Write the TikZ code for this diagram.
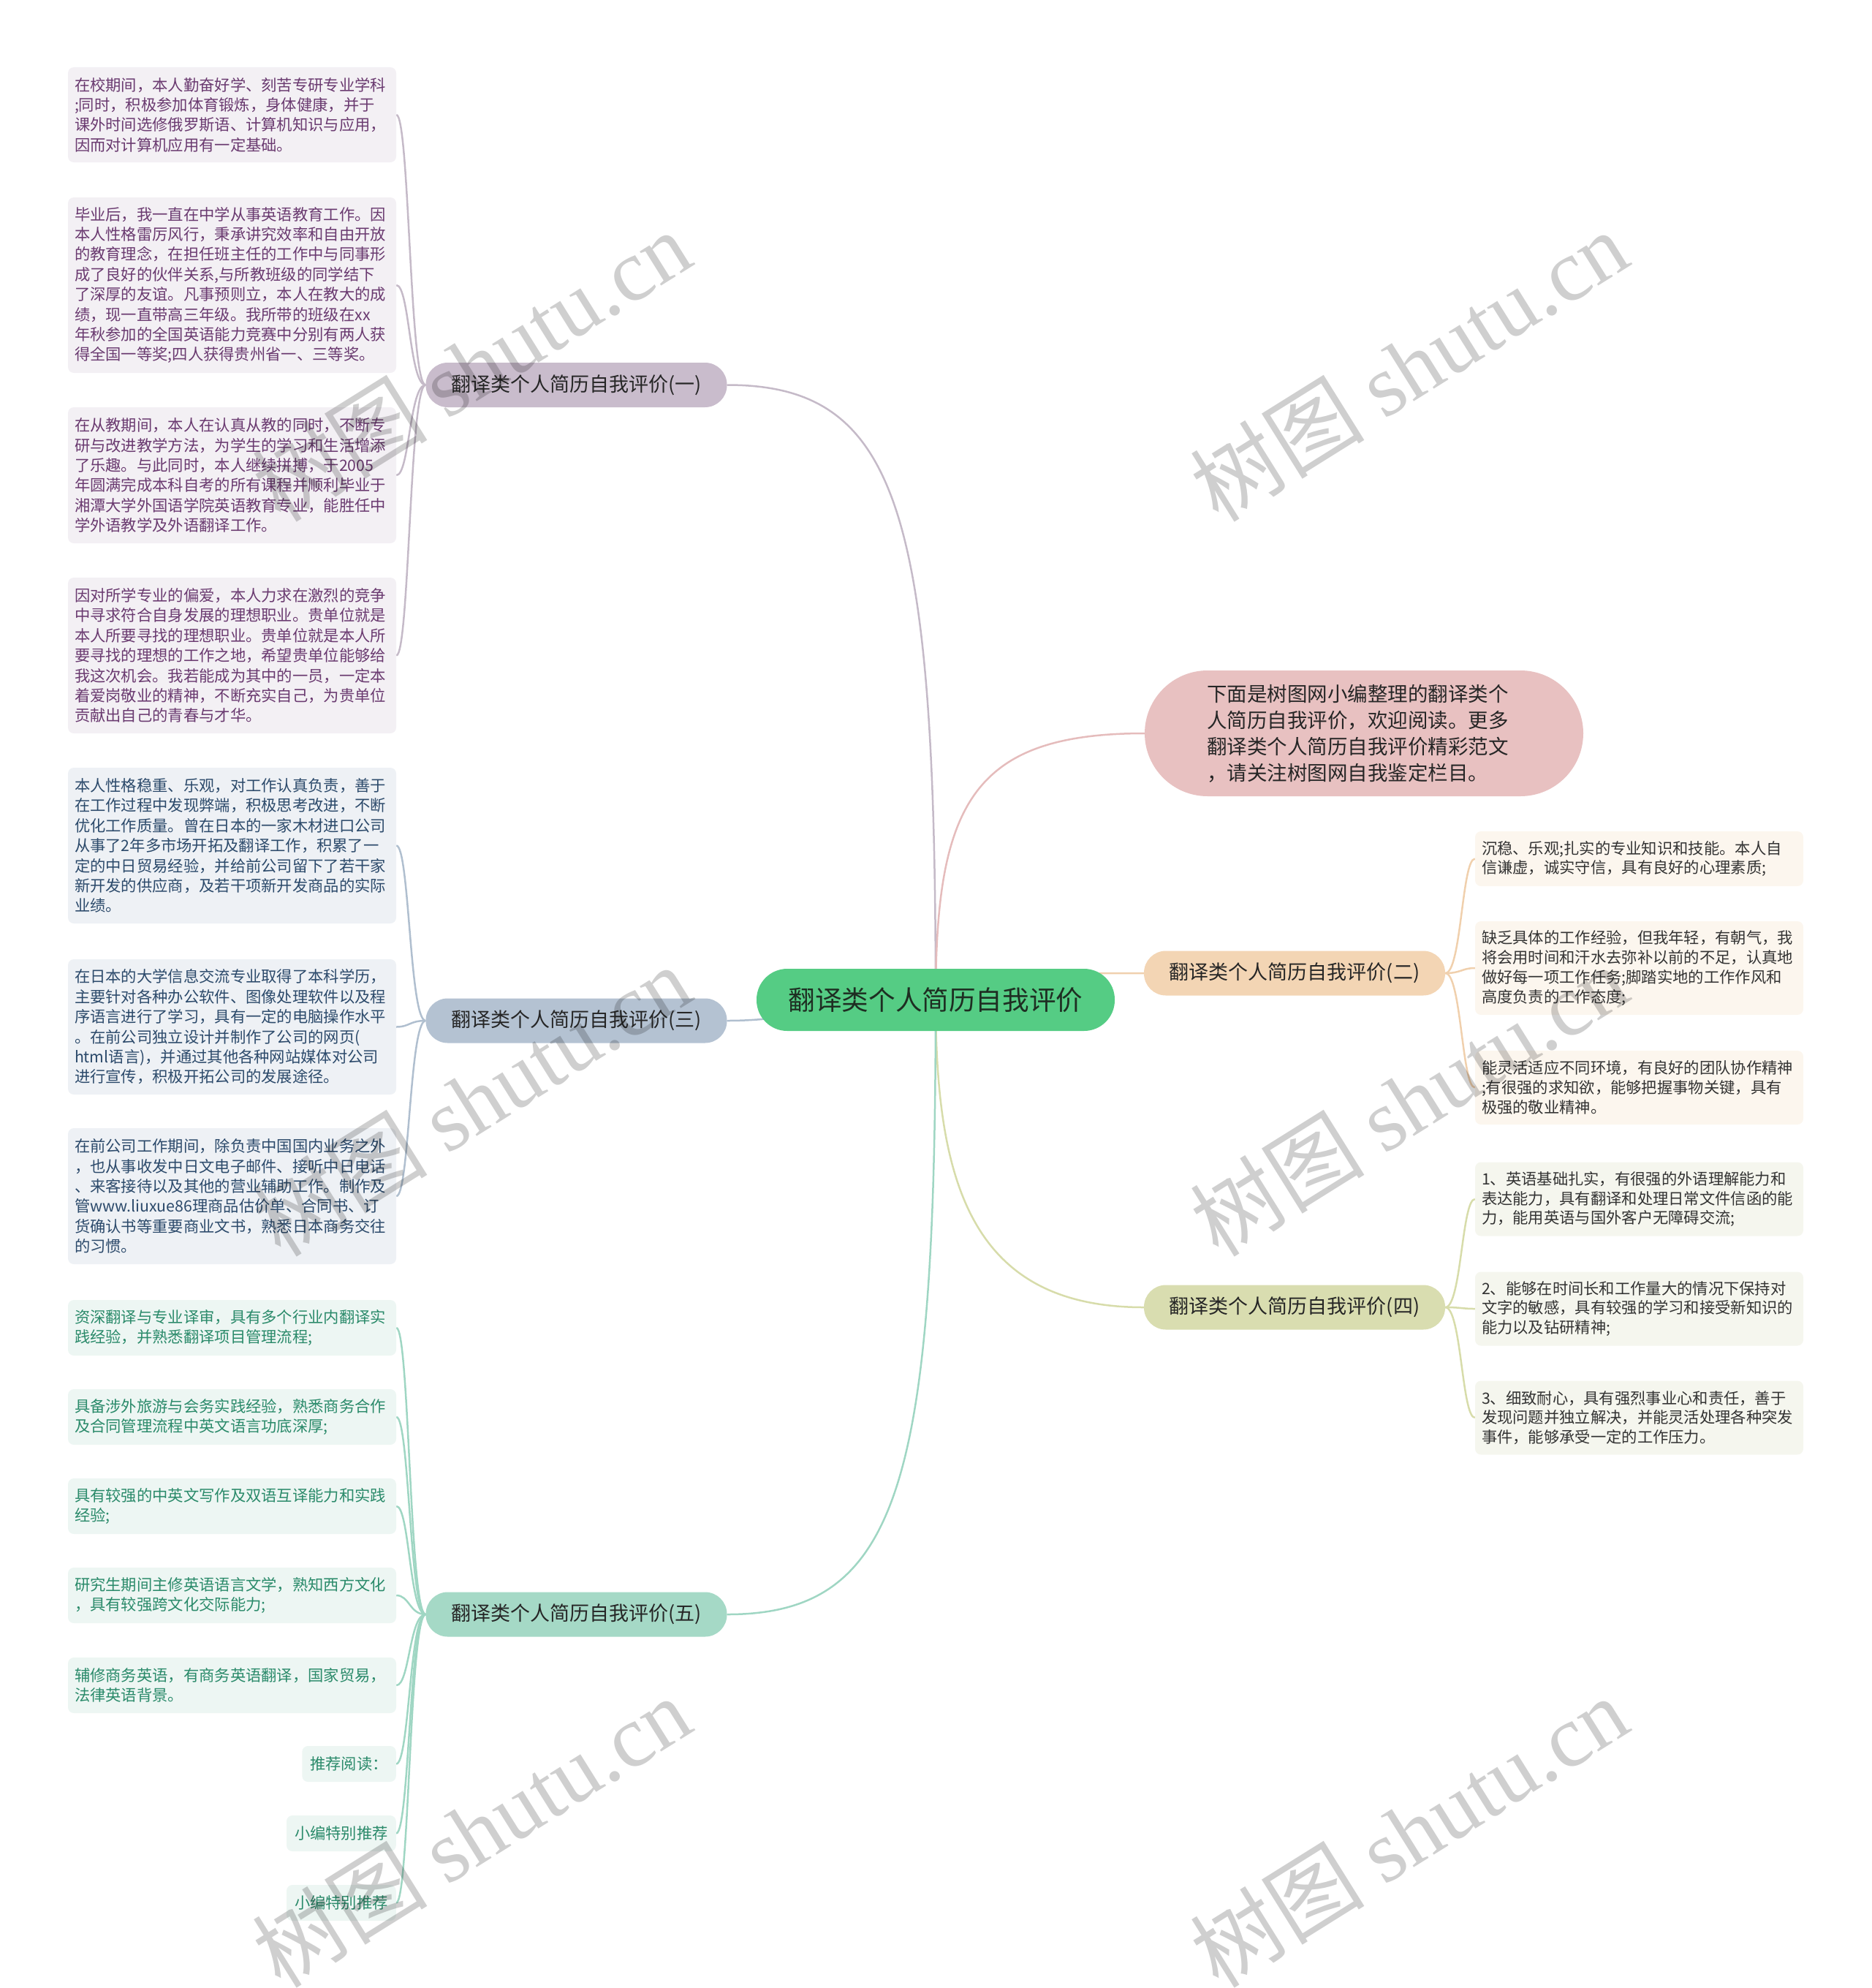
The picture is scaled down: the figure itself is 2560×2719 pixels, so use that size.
\documentclass[tikz,border=0pt]{standalone}
\usepackage{fontspec}
\setmainfont{Noto Sans CJK SC}
\newfontfamily\wmlatin{Liberation Serif}
\usetikzlibrary{backgrounds}
\definecolor{cCenter}{HTML}{55CC84}
\definecolor{cCenterT}{HTML}{1E2E22}
\definecolor{fA}{HTML}{C9BCCC}\definecolor{lA}{HTML}{F3F0F4}\definecolor{tA}{HTML}{6A3A70}\definecolor{kA}{HTML}{C5BAC8}
\definecolor{fC}{HTML}{B4C2D2}\definecolor{lC}{HTML}{EEF1F5}\definecolor{tC}{HTML}{2C4A6B}\definecolor{kC}{HTML}{B0BFCF}
\definecolor{fE}{HTML}{A5D9C6}\definecolor{lE}{HTML}{EDF6F3}\definecolor{tE}{HTML}{2A8A6A}\definecolor{kE}{HTML}{9FD6C3}
\definecolor{fB}{HTML}{F3D5B4}\definecolor{lB}{HTML}{FCF6EE}\definecolor{tB}{HTML}{333333}\definecolor{kB}{HTML}{F0D0AD}
\definecolor{fD}{HTML}{D9DDB0}\definecolor{lD}{HTML}{F5F6EE}\definecolor{tD}{HTML}{333333}\definecolor{kD}{HTML}{D7DCAA}
\definecolor{fI}{HTML}{E8C1C1}\definecolor{kI}{HTML}{E5BCBC}
\begin{document}
\begin{tikzpicture}[x=1pt,y=-1pt,
  leafbox/.style={rounded corners=8pt, minimum width=449pt, text width=431pt, inner xsep=9pt, inner ysep=0pt, align=left, font=\fontsize{21.3pt}{27.4pt}\selectfont},
  leafA/.style={leafbox, fill=lA, text=tA},
  leafC/.style={leafbox, fill=lC, text=tC},
  leafE/.style={leafbox, fill=lE, text=tE, font=\fontsize{21.3pt}{27.4pt}\selectfont},
  leafB/.style={leafbox, fill=lB, text=tB, font=\fontsize{21.3pt}{26.8pt}\selectfont},
  leafD/.style={leafbox, fill=lD, text=tD, font=\fontsize{21.3pt}{26.8pt}\selectfont},
  smallE/.style={rounded corners=8pt, fill=lE, text=tE, inner xsep=11pt, inner ysep=0pt, minimum height=49pt, anchor=east, font=\fontsize{21.3pt}{26.8pt}\selectfont},
  branch/.style={rounded corners=30pt, minimum width=412pt, minimum height=61pt, inner sep=0pt, text=black!85, font=\fontsize{27pt}{32pt}\selectfont},
  conn/.style={line width=2.5pt},
  wm/.style={rotate=32, text=black, text opacity=0.19, font=\fontsize{120pt}{130pt}\selectfont}
]
\useasboundingbox (0,0) rectangle (2560,2719);

% central and main nodes
\node[rounded corners=42pt, minimum width=490pt, minimum height=85pt, inner sep=0pt, fill=cCenter, text=cCenterT, font=\fontsize{36.6pt}{40pt}\selectfont] (c0) at (1280,1367.5) {翻译类个人简历自我评价};
\node[rounded corners=86pt, minimum width=600pt, minimum height=172pt, inner sep=0pt, fill=fI, text=black!85, align=left, font=\fontsize{27.5pt}{36pt}\selectfont] (intro) at (1866,1003) {下面是树图网小编整理的翻译类个\hspace*{17pt}\\人简历自我评价，欢迎阅读。更多\\翻译类个人简历自我评价精彩范文\\，请关注树图网自我鉴定栏目。};
\node[branch, fill=fA] (b1) at (788.5,526.5) {翻译类个人简历自我评价(一)};
\node[branch, fill=fC] (b3) at (788.5,1396) {翻译类个人简历自我评价(三)};
\node[branch, fill=fE] (b5) at (788.5,2208) {翻译类个人简历自我评价(五)};
\node[branch, fill=fB] (b2) at (1771,1331) {翻译类个人简历自我评价(二)};
\node[branch, fill=fD] (b4) at (1771,1788) {翻译类个人简历自我评价(四)};

% branch 1 leaves
\node[leafA, minimum height=130pt] (l1) at (317.5,157) {在校期间，本人勤奋好学、刻苦专研专业学科\\;同时，积极参加体育锻炼，身体健康，并于\\课外时间选修俄罗斯语、计算机知识与应用，\\因而对计算机应用有一定基础。};
\node[leafA, minimum height=240pt] (l2) at (317.5,390) {毕业后，我一直在中学从事英语教育工作。因\\本人性格雷厉风行，秉承讲究效率和自由开放\\的教育理念，在担任班主任的工作中与同事形\\成了良好的伙伴关系,与所教班级的同学结下\\了深厚的友谊。凡事预则立，本人在教大的成\\绩，现一直带高三年级。我所带的班级在xx\\年秋参加的全国英语能力竞赛中分别有两人获\\得全国一等奖;四人获得贵州省一、三等奖。};
\node[leafA, minimum height=186pt] (l3) at (317.5,650) {在从教期间，本人在认真从教的同时，不断专\\研与改进教学方法，为学生的学习和生活增添\\了乐趣。与此同时，本人继续拼搏，于2005\\年圆满完成本科自考的所有课程并顺利毕业于\\湘潭大学外国语学院英语教育专业，能胜任中\\学外语教学及外语翻译工作。};
\node[leafA, minimum height=213pt] (l4) at (317.5,896.5) {因对所学专业的偏爱，本人力求在激烈的竞争\\中寻求符合自身发展的理想职业。贵单位就是\\本人所要寻找的理想职业。贵单位就是本人所\\要寻找的理想的工作之地，希望贵单位能够给\\我这次机会。我若能成为其中的一员，一定本\\着爱岗敬业的精神，不断充实自己，为贵单位\\贡献出自己的青春与才华。};

% branch 3 leaves
\node[leafC, minimum height=213pt] (l5) at (317.5,1156.5) {本人性格稳重、乐观，对工作认真负责，善于\\在工作过程中发现弊端，积极思考改进，不断\\优化工作质量。曾在日本的一家木材进口公司\\从事了2年多市场开拓及翻译工作，积累了一\\定的中日贸易经验，并给前公司留下了若干家\\新开发的供应商，及若干项新开发商品的实际\\业绩。};
\node[leafC, minimum height=185pt] (l6) at (317.5,1404.5) {在日本的大学信息交流专业取得了本科学历，\\主要针对各种办公软件、图像处理软件以及程\\序语言进行了学习，具有一定的电脑操作水平\\。在前公司独立设计并制作了公司的网页(\\html语言)，并通过其他各种网站媒体对公司\\进行宣传，积极开拓公司的发展途径。};
\node[leafC, minimum height=186pt] (l7) at (317.5,1636) {在前公司工作期间，除负责中国国内业务之外\\，也从事收发中日文电子邮件、接听中日电话\\、来客接待以及其他的营业辅助工作。制作及\\管www.liuxue86理商品估价单、合同书、订\\货确认书等重要商业文书，熟悉日本商务交往\\的习惯。};

% branch 5 leaves
\node[leafE, minimum height=76pt] (l9) at (317.5,1816) {资深翻译与专业译审，具有多个行业内翻译实\\践经验，并熟悉翻译项目管理流程;};
\node[leafE, minimum height=76pt] (l10) at (317.5,1938) {具备涉外旅游与会务实践经验，熟悉商务合作\\及合同管理流程中英文语言功底深厚;};
\node[leafE, minimum height=76pt] (l11) at (317.5,2060) {具有较强的中英文写作及双语互译能力和实践\\经验;};
\node[leafE, minimum height=76pt] (l12) at (317.5,2182) {研究生期间主修英语语言文学，熟知西方文化\\，具有较强跨文化交际能力;};
\node[leafE, minimum height=76pt] (l13) at (317.5,2305) {辅修商务英语，有商务英语翻译，国家贸易，\\法律英语背景。};
\node[smallE] (s1) at (542,2412.5) {推荐阅读：};
\node[smallE] (s2) at (542,2507.5) {小编特别推荐};
\node[smallE] (s3) at (542,2602.5) {小编特别推荐};

% branch 2 leaves
\node[leafB, minimum height=75pt] (r1) at (2242.5,1174.5) {沉稳、乐观;扎实的专业知识和技能。本人自\\信谦虚，诚实守信，具有良好的心理素质;};
\node[leafB, minimum height=128pt] (r2) at (2242.5,1324) {缺乏具体的工作经验，但我年轻，有朝气，我\\将会用时间和汗水去弥补以前的不足，认真地\\做好每一项工作任务;脚踏实地的工作作风和\\高度负责的工作态度;};
\node[leafB, minimum height=101pt] (r3) at (2242.5,1487.5) {能灵活适应不同环境，有良好的团队协作精神\\;有很强的求知欲，能够把握事物关键，具有\\极强的敬业精神。};

% branch 4 leaves
\node[leafD, minimum height=101pt] (r4) at (2242.5,1640) {1、英语基础扎实，有很强的外语理解能力和\\表达能力，具有翻译和处理日常文件信函的能\\力，能用英语与国外客户无障碍交流;};
\node[leafD, minimum height=101pt] (r5) at (2242.5,1790) {2、能够在时间长和工作量大的情况下保持对\\文字的敏感，具有较强的学习和接受新知识的\\能力以及钻研精神;};
\node[leafD, minimum height=101pt] (r6) at (2242.5,1939) {3、细致耐心，具有强烈事业心和责任，善于\\发现问题并独立解决，并能灵活处理各种突发\\事件，能够承受一定的工作压力。};

\begin{pgfonlayer}{background}
% center connectors
\draw[conn, kA] (c0.center) .. controls (1280,700) and (1230,526.5) .. (b1.east);
\draw[conn, kI] (c0.center) .. controls (1280,1100) and (1330,1003) .. (intro.west);
\draw[conn, kB] (c0.center) .. controls (1380,1331) and (1450,1331) .. (b2.west);
\draw[conn, kC] (c0.center) .. controls (1150,1367.5) and (1100,1396) .. (b3.east);
\draw[conn, kD] (c0.center) .. controls (1280,1620) and (1330,1788) .. (b4.west);
\draw[conn, kE] (c0.center) .. controls (1280,2030) and (1230,2208) .. (b5.east);
% leaf connectors
\foreach \l in {l1,l2,l3,l4} \draw[conn, kA] (b1.west) .. controls +(-22,0) and +(18,0) .. (\l.east);
\foreach \l in {l5,l6,l7} \draw[conn, kC] (b3.west) .. controls +(-22,0) and +(18,0) .. (\l.east);
\foreach \l in {l9,l10,l11,l12,l13,s1,s2,s3} \draw[conn, kE] (b5.west) .. controls +(-22,0) and +(18,0) .. (\l.east);
\foreach \l in {r1,r2,r3} \draw[conn, kB] (b2.east) .. controls +(22,0) and +(-18,0) .. (\l.west);
\foreach \l in {r4,r5,r6} \draw[conn, kD] (b4.east) .. controls +(22,0) and +(-18,0) .. (\l.west);
\end{pgfonlayer}

% watermarks
\node[wm] (w1) at (645,500) {树图 {\wmlatin shutu.cn}};
\node[wm] (w2) at (1927,500) {树图 {\wmlatin shutu.cn}};
\node[wm] (w3) at (645,1505) {树图 {\wmlatin shutu.cn}};
\node[wm] (w4) at (1927,1505) {树图 {\wmlatin shutu.cn}};
\node[wm] (w5) at (645,2505) {树图 {\wmlatin shutu.cn}};
\node[wm] (w6) at (1927,2505) {树图 {\wmlatin shutu.cn}};
\end{tikzpicture}
\end{document}
